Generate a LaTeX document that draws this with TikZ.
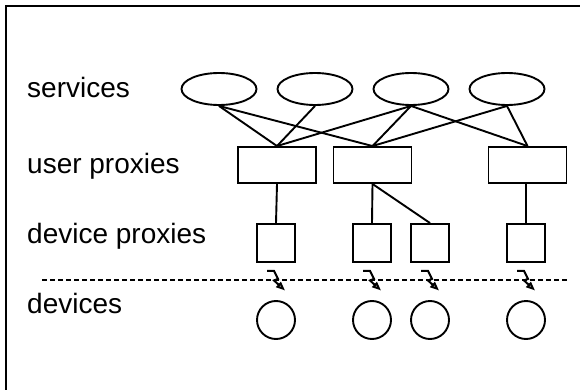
\documentclass[tikz,border=0pt]{standalone}
\usepackage{fontspec}
\setmainfont{Liberation Sans}
\usetikzlibrary{shapes.geometric,arrows.meta}
\begin{document}
\begin{tikzpicture}[x=1pt,y=-1pt,
  shp/.style={draw,line width=1.9pt,inner sep=0pt},
  svc/.style={shp,ellipse,minimum width=75pt,minimum height=32pt},
  uprox/.style={shp,rectangle,minimum width=78pt,minimum height=36pt},
  dprox/.style={shp,rectangle,minimum width=38pt,minimum height=38pt},
  dev/.style={shp,circle,minimum size=38pt},
  conn/.style={line width=1.9pt},
  lbl/.style={anchor=base west,inner sep=0pt,font=\fontsize{28}{32}\selectfont},
  bolt/.style={line width=2pt,line join=miter,-{Triangle[open,length=9pt,width=7pt]}}
]
\useasboundingbox (0,0) rectangle (580,390);
\draw[line width=2pt] (6,390) -- (6,6) -- (580,6);

% labels
\node[lbl] (lsvc) at (27,98) {services};
\node[lbl] (lup) at (27,173) {user proxies};
\node[lbl] (ldp) at (27,243) {device proxies};
\node[lbl] (ldev) at (27,313) {devices};

% services
\node[svc] (e1) at (219,89) {};
\node[svc] (e2) at (315,89) {};
\node[svc] (e3) at (411,89) {};
\node[svc] (e4) at (507,89) {};

% user proxies
\node[uprox] (r1) at (277,165) {};
\node[uprox] (r2) at (372.5,165) {};
\node[uprox] (r3) at (527.5,165) {};

% device proxies
\node[dprox] (s1) at (276,243) {};
\node[dprox] (s2) at (372,243) {};
\node[dprox] (s3) at (430,243) {};
\node[dprox] (s4) at (526,243) {};

% devices
\node[dev] (c1) at (276,320) {};
\node[dev] (c2) at (372,320) {};
\node[dev] (c3) at (430,320) {};
\node[dev] (c4) at (526,320) {};

% service -- user proxy connectors
\draw[conn] (e1.south) -- (r1.north);
\draw[conn] (e1.south) -- (r2.north);
\draw[conn] (e2.south) -- (r1.north);
\draw[conn] (e3.south) -- (r1.north);
\draw[conn] (e3.south) -- (r2.north);
\draw[conn] (e3.south) -- (r3.north);
\draw[conn] (e4.south) -- (r2.north);
\draw[conn] (e4.south) -- (r3.north);

% user proxy -- device proxy connectors
\draw[conn] (r1.south) -- (s1.north);
\draw[conn] (r2.south) -- (s2.north);
\draw[conn] (r2.south) -- (s3.north);
\draw[conn] (r3.south -| s4.north) -- (s4.north);

% dashed boundary
\coordinate (dl) at (42,280);
\coordinate (dr) at (568,280);
\draw[line width=1.9pt,dash pattern=on 5pt off 3pt] (dl) -- (dr);

% wireless bolts
\foreach \s in {s1,s2,s3,s4}{
  \draw[bolt] ([xshift=-9pt,yshift=-8pt]\s.south) -- ++(7,0) -- ++(4,8) -- ++(-4,1.5) -- ++(11,10);
}
\end{tikzpicture}
\end{document}
